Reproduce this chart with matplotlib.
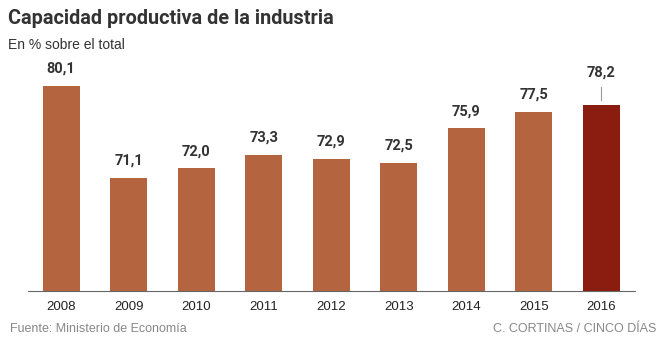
import matplotlib.pyplot as plt

years = ['2008', '2009', '2010', '2011', '2012', '2013', '2014', '2015', '2016']
values = [80.1, 71.1, 72.0, 73.3, 72.9, 72.5, 75.9, 77.5, 78.2]
labels = ['80,1', '71,1', '72,0', '73,3', '72,9', '72,5', '75,9', '77,5', '78,2']

plt.rcParams['font.family'] = ['Liberation Sans', 'DejaVu Sans']

fig = plt.figure(figsize=(6.64, 3.42), dpi=100)
ax = fig.add_axes([28/664, 51/342, 607/664, 231/342])

colors = ['#b4643e'] * 8 + ['#8b1c10']
x = list(range(len(years)))
ax.bar(x, values, width=0.55, color=colors, bottom=0)
ax.set_ylim(60, 82.6)
ax.set_xlim(-0.49, 8.5)

for i, v in enumerate(values):
    if i == len(values) - 1:
        ax.plot([i, i], [v + 0.5, v + 1.8], color='#999999', lw=0.8)
        ax.text(i, v + 2.5, labels[i], ha='center', va='bottom', fontsize=10.5,
                fontweight='bold', family=['Roboto', 'DejaVu Sans'], color='#333333')
    else:
        ax.text(i, v + 1.0, labels[i], ha='center', va='bottom', fontsize=10.5,
                fontweight='bold', family=['Roboto', 'DejaVu Sans'], color='#333333')

for s in ['top', 'right', 'left']:
    ax.spines[s].set_visible(False)
ax.spines['bottom'].set_color('#666666')
ax.spines['bottom'].set_linewidth(0.8)
ax.set_yticks([])
ax.set_xticks(x)
ax.set_xticklabels(years, fontsize=9.5, color='#222222')
ax.tick_params(axis='x', length=0, pad=7)

fig.text(8/664, 1 - 18/342, 'Capacidad productiva de la industria', fontsize=14.3,
         fontweight='bold', family=['Roboto', 'DejaVu Sans'],
         color='#333333', va='center', ha='left')
fig.text(8/664, 1 - 45/342, 'En % sobre el total', fontsize=10, color='#333333',
         va='center', ha='left')
fig.text(10/664, 1 - 329/342, 'Fuente: Ministerio de Economía', fontsize=9,
         color='#888888', va='center', ha='left')
fig.text(656/664, 1 - 329/342, 'C. CORTINAS / CINCO DÍAS', fontsize=9,
         color='#888888', va='center', ha='right')

fig.savefig('out.png', dpi=100)
